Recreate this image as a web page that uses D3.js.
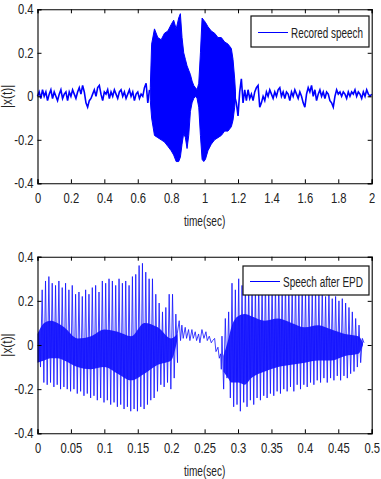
<!DOCTYPE html>
<html>
<head>
<meta charset="utf-8">
<script src="https://cdn.jsdelivr.net/npm/d3@7"></script>
<style>
  body { margin: 0; background: #fff; }
  svg text { font-family: "Liberation Sans", Arial, sans-serif; fill: #222; }
</style>
</head>
<body>
<svg id="chart" width="381" height="479"></svg>
<script>

// ---- top panel : recorded speech (0 .. 2 s) ----
const recTicksX = [0, 0.2, 0.4, 0.6, 0.8, 1, 1.2, 1.4, 1.6, 1.8, 2] ;
const ampTicks = [-0.4, -0.2, 0, 0.2, 0.4] ;

// background noise before the word, one value every 10 ms from t = 0
const noiseAStart = 0, noiseStep = 0.01 ;
const noiseA = [
  0.00,0.02,-0.01,0.03,0.00,0.02,-0.02,0.01,0.03,-0.01,
  0.02,0.00,-0.02,0.01,0.03,-0.01,0.01,0.02,-0.02,0.02,
  0.00,0.03,0.01,-0.01,0.02,0.04,0.01,0.05,0.02,-0.03,
  -0.05,-0.02,-0.01,0.01,0.03,0.00,0.04,0.05,0.01,-0.02,
  0.02,0.01,0.03,-0.01,0.02,0.00,0.03,0.01,-0.01,0.02,
  0.03,0.00,0.02,-0.01,0.01,0.03,0.00,0.02,-0.02,0.01,
  0.02,-0.01,0.01,0.00,0.04,0.06,-0.03,0.03 ] ;

// noise after the word, from t = 1.18
const noiseBStart = 1.18 ;
const noiseB = [
  0.00,-0.03,-0.09,0.02,0.08,-0.03,0.03,-0.02,0.03,-0.01,
  0.01,-0.02,0.02,0.04,0.05,-0.05,-0.03,0.00,-0.02,0.02,
  0.00,0.03,0.01,-0.01,0.02,0.00,0.03,0.04,0.00,0.02,
  -0.01,0.02,0.01,-0.02,0.02,0.00,0.03,0.01,-0.01,0.02,
  0.00,-0.03,-0.05,0.01,0.04,0.02,0.05,0.00,0.03,-0.02,
  0.01,0.03,0.00,0.02,-0.01,0.02,0.01,-0.02,-0.03,-0.05,
  0.00,0.03,0.01,0.02,0.00,0.02,0.01,-0.01,0.02,0.00,
  0.02,0.01,0.03,0.00,0.02,0.01,-0.01,0.02,0.00,0.03,
  0.01,0.00,0.01 ] ;

// envelope of the voiced part
const speechT  = [0.675,0.683,0.70,0.72,0.74,0.76,0.78,0.80,0.815,0.83,0.845,0.855,0.865,0.875,0.885,0.895,0.905,0.915,0.925,0.935,0.945,0.955,0.965,0.975,0.985,0.995,1.005,1.02,1.04,1.06,1.08,1.10,1.12,1.14,1.16,1.17,1.18,1.185] ;
const speechHi = [0.04,0.24,0.31,0.27,0.26,0.29,0.30,0.33,0.35,0.31,0.36,0.38,0.27,0.20,0.17,0.14,0.12,0.10,0.07,0.05,0.04,0.03,0.06,0.20,0.36,0.35,0.34,0.32,0.30,0.29,0.27,0.27,0.25,0.24,0.22,0.17,0.08,0.02] ;
const speechLo = [-0.02,-0.10,-0.18,-0.19,-0.20,-0.21,-0.23,-0.25,-0.27,-0.30,-0.30,-0.28,-0.22,-0.17,-0.19,-0.24,-0.18,-0.07,-0.03,-0.01,0.00,-0.01,-0.05,-0.18,-0.29,-0.30,-0.29,-0.25,-0.22,-0.20,-0.19,-0.18,-0.16,-0.16,-0.14,-0.11,-0.05,-0.01] ;

// ---- bottom panel : speech after end point detection (0 .. 0.5 s) ----
const epdTicksX = [0, 0.05, 0.1, 0.15, 0.2, 0.25, 0.3, 0.35, 0.4, 0.45, 0.5] ;
const pitchPeriod = 0.005 ;

const pulses1Start = 0.002 ;
const peaks1 = [
  0.06,0.25,0.29,0.31,0.28,0.27,0.29,0.26,0.28,0.25,
  0.27,0.23,0.24,0.22,0.25,0.23,0.26,0.27,0.24,0.29,
  0.28,0.30,0.29,0.27,0.30,0.28,0.29,0.27,0.31,0.32,
  0.36,0.37,0.33,0.30,0.30,0.23,0.19,0.15,0.17,0.23,
  0.23,0.14 ] ;
const troughs1 = [
  -0.10,-0.17,-0.18,-0.17,-0.19,-0.18,-0.20,-0.19,-0.20,-0.21,
  -0.20,-0.22,-0.21,-0.23,-0.22,-0.24,-0.23,-0.25,-0.24,-0.26,
  -0.25,-0.27,-0.26,-0.28,-0.27,-0.29,-0.28,-0.30,-0.29,-0.30,
  -0.28,-0.29,-0.27,-0.25,-0.24,-0.21,-0.18,-0.19,-0.17,-0.20,
  -0.15,-0.08 ] ;
const core1T  = [0,0.01,0.02,0.03,0.04,0.06,0.08,0.10,0.12,0.14,0.16,0.18,0.20,0.209] ;
const core1Hi = [0.05,0.10,0.11,0.10,0.08,0.03,0.04,0.07,0.06,0.04,0.10,0.08,0.03,0.05] ;
const core1Lo = [-0.08,-0.07,-0.06,-0.06,-0.07,-0.10,-0.11,-0.10,-0.13,-0.16,-0.13,-0.09,-0.07,0.02] ;

// low-level transition between the two syllables
const midT = [0.209,0.212,0.214,0.216,0.218,0.221,0.223,0.226,0.228,0.231,0.233,0.236,0.238,0.241,0.243,0.246,0.249,0.252,0.254,0.257,0.260,0.262,0.265,0.267,0.270,0.272,0.274,0.275] ;
const midV = [0.05,0.11,0.02,0.09,0.03,0.08,0.03,0.07,0.02,0.07,0.03,0.06,0.02,0.05,0.01,0.07,0.03,0.06,0.02,0.04,0.01,0.02,0.03,-0.03,-0.01,-0.06,-0.04,-0.11] ;

const pulses2Start = 0.276 ;
const peaks2 = [
  0.04,0.12,0.15,0.28,0.25,0.30,0.27,0.29,0.28,0.30,
  0.27,0.29,0.28,0.30,0.27,0.29,0.28,0.30,0.27,0.29,
  0.28,0.27,0.29,0.26,0.28,0.25,0.27,0.24,0.26,0.23,
  0.25,0.22,0.24,0.21,0.22,0.20,0.21,0.19,0.17,0.15,
  0.12,0.09,0.03 ] ;
const troughs2 = [
  -0.20,-0.15,-0.24,-0.28,-0.27,-0.30,-0.26,-0.28,-0.25,-0.27,
  -0.24,-0.25,-0.23,-0.24,-0.22,-0.23,-0.21,-0.22,-0.20,-0.21,
  -0.19,-0.21,-0.18,-0.20,-0.18,-0.19,-0.17,-0.18,-0.16,-0.17,
  -0.15,-0.17,-0.15,-0.16,-0.14,-0.16,-0.14,-0.15,-0.13,-0.12,
  -0.10,-0.08,0.01 ] ;
const core2T  = [0.278,0.285,0.29,0.30,0.31,0.32,0.34,0.36,0.38,0.40,0.42,0.44,0.46,0.48,0.487] ;
const core2Hi = [-0.05,0.02,0.08,0.13,0.14,0.13,0.11,0.12,0.10,0.08,0.09,0.07,0.05,0.04,0.01] ;
const core2Lo = [-0.12,-0.15,-0.17,-0.17,-0.18,-0.15,-0.12,-0.10,-0.09,-0.08,-0.07,-0.07,-0.05,-0.04,0.00] ;


const svg = d3.select("#chart") ;
const blue = "#0000ff" ;

// squeeze texts horizontally, the original uses a narrow face
function condense( sel, k ) {
	sel.each( function() {
		const w = this.getComputedTextLength() ;
		if( w > 0 ) {
			this.setAttribute( "textLength", (w * k).toFixed(1) ) ;
			this.setAttribute( "lengthAdjust", "spacingAndGlyphs" ) ;
		}
	}) ;
}

/*
	draw one MATLAB style axes box: inward ticks on all four sides,
	labels on left and bottom only
*/
function drawAxes( g, x, y, xTicks, box, legendText, legendBox ) {

	g.append("g")
		.attr("transform", "translate(0," + box.bottom + ")")
		.call( d3.axisBottom(x).tickValues(xTicks).tickFormat(d => String(d)).tickSize(-4).tickPadding(10) ) ;
	g.append("g")
		.attr("transform", "translate(0," + box.top + ")")
		.call( d3.axisTop(x).tickValues(xTicks).tickFormat("").tickSize(-4) ) ;
	g.append("g")
		.attr("transform", "translate(" + box.left + ",0)")
		.call( d3.axisLeft(y).tickValues(ampTicks).tickFormat(d => String(d)).tickSize(-4).tickPadding(4) ) ;
	g.append("g")
		.attr("transform", "translate(" + box.right + ",0)")
		.call( d3.axisRight(y).tickValues(ampTicks).tickFormat("").tickSize(-4) ) ;

	g.selectAll(".domain").attr("stroke", "#000").attr("stroke-width", 1.1) ;
	g.selectAll(".tick line").attr("stroke", "#000") ;
	g.selectAll(".tick text").style("font-size", "14px").attr("fill", "#222") ;
	condense( g.selectAll(".tick text"), 0.8 ) ;

	const xl = g.append("text")
		.attr("x", (box.left + box.right) / 2)
		.attr("y", box.bottom + 43)
		.attr("text-anchor", "middle")
		.style("font-size", "14px")
		.text("time(sec)") ;
	condense( xl, 0.72 ) ;

	const yl = g.append("text")
		.attr("transform", "translate(12," + ((box.top + box.bottom) / 2) + ") rotate(-90)")
		.attr("text-anchor", "middle")
		.style("font-size", "14px")
		.text("|x(t)|") ;
	condense( yl, 0.85 ) ;

	// legend
	const lg = g.append("g") ;
	lg.append("rect")
		.attr("x", legendBox.x).attr("y", legendBox.y)
		.attr("width", legendBox.w).attr("height", legendBox.h)
		.attr("fill", "#fff").attr("stroke", "#111").attr("stroke-width", 1.2) ;
	lg.append("line")
		.attr("x1", legendBox.x + 7).attr("x2", legendBox.x + 37)
		.attr("y1", legendBox.y + legendBox.h / 2 + 1).attr("y2", legendBox.y + legendBox.h / 2 + 1)
		.attr("stroke", blue).attr("stroke-width", 1) ;
	const lt = lg.append("text")
		.attr("x", legendBox.x + 40)
		.attr("y", legendBox.y + legendBox.h / 2 + 6)
		.style("font-size", "14px")
		.text(legendText) ;
	lt.attr("textLength", legendBox.w - 46).attr("lengthAdjust", "spacingAndGlyphs") ;
}


// ---------------- top panel ----------------
const box1 = { left: 37.5, right: 371.7, top: 9.3, bottom: 183.3 } ;
const x1 = d3.scaleLinear().domain([0, 2]).range([box1.left, box1.right]) ;
const y1 = d3.scaleLinear().domain([-0.4, 0.4]).range([box1.bottom, box1.top]) ;
const g1 = svg.append("g") ;

const noiseLine1 = d3.line().x(d => x1(d[0])).y(d => y1(d[1])) ;
g1.append("path")
	.datum( noiseA.map( (v, i) => [noiseAStart + i * noiseStep, v] ) )
	.attr("d", noiseLine1).attr("fill", "none").attr("stroke", blue).attr("stroke-width", 1.6) ;
g1.append("path")
	.datum( noiseB.map( (v, i) => [noiseBStart + i * noiseStep, v] ) )
	.attr("d", noiseLine1).attr("fill", "none").attr("stroke", blue).attr("stroke-width", 1.6) ;

g1.append("path")
	.datum( speechT.map( (t, i) => ({ t: t, hi: speechHi[i], lo: speechLo[i] }) ) )
	.attr("d", d3.area().x(d => x1(d.t)).y0(d => y1(d.lo)).y1(d => y1(d.hi)))
	.attr("fill", blue).attr("stroke", blue).attr("stroke-width", 1) ;

drawAxes( g1, x1, y1, recTicksX, box1, "Recored speech", { x: 251, y: 16, w: 118, h: 31 } ) ;


// ---------------- bottom panel ----------------
const box2 = { left: 37.5, right: 371.7, top: 256.7, bottom: 433.3 } ;
const x2 = d3.scaleLinear().domain([0, 0.5]).range([box2.left, box2.right]) ;
const y2 = d3.scaleLinear().domain([-0.4, 0.4]).range([box2.bottom, box2.top]) ;
const g2 = svg.append("g") ;

const coreArea = d3.area().x(d => x2(d.t)).y0(d => y2(d.lo)).y1(d => y2(d.hi)).curve(d3.curveMonotoneX) ;
g2.append("path")
	.datum( core1T.map( (t, i) => ({ t: t, hi: core1Hi[i], lo: core1Lo[i] }) ) )
	.attr("d", coreArea).attr("fill", blue).attr("fill-opacity", 0.85) ;
g2.append("path")
	.datum( core2T.map( (t, i) => ({ t: t, hi: core2Hi[i], lo: core2Lo[i] }) ) )
	.attr("d", coreArea).attr("fill", blue).attr("fill-opacity", 0.85) ;

// each glottal pulse: a rise to its peak, then a fall to its trough half a period later
function pulsePoints( start, peaks, troughs ) {
	const pts = [] ;
	peaks.forEach( (p, i) => {
		const t = start + i * pitchPeriod ;
		pts.push( [t, p] ) ;
		pts.push( [t + pitchPeriod / 2, troughs[i]] ) ;
	}) ;
	return pts ;
}

const line2 = d3.line().x(d => x2(d[0])).y(d => y2(d[1])) ;
const wave = pulsePoints( pulses1Start, peaks1, troughs1 )
	.concat( midT.map( (t, i) => [t, midV[i]] ) )
	.concat( pulsePoints( pulses2Start, peaks2, troughs2 ) ) ;

g2.append("path")
	.datum( wave )
	.attr("d", line2).attr("fill", "none").attr("stroke", "#1010ff")
	.attr("stroke-width", 1).attr("stroke-opacity", 0.8) ;

drawAxes( g2, x2, y2, epdTicksX, box2, "Speech after EPD", { x: 243, y: 266, w: 126, h: 29 } ) ;

</script>
</body>
</html>
